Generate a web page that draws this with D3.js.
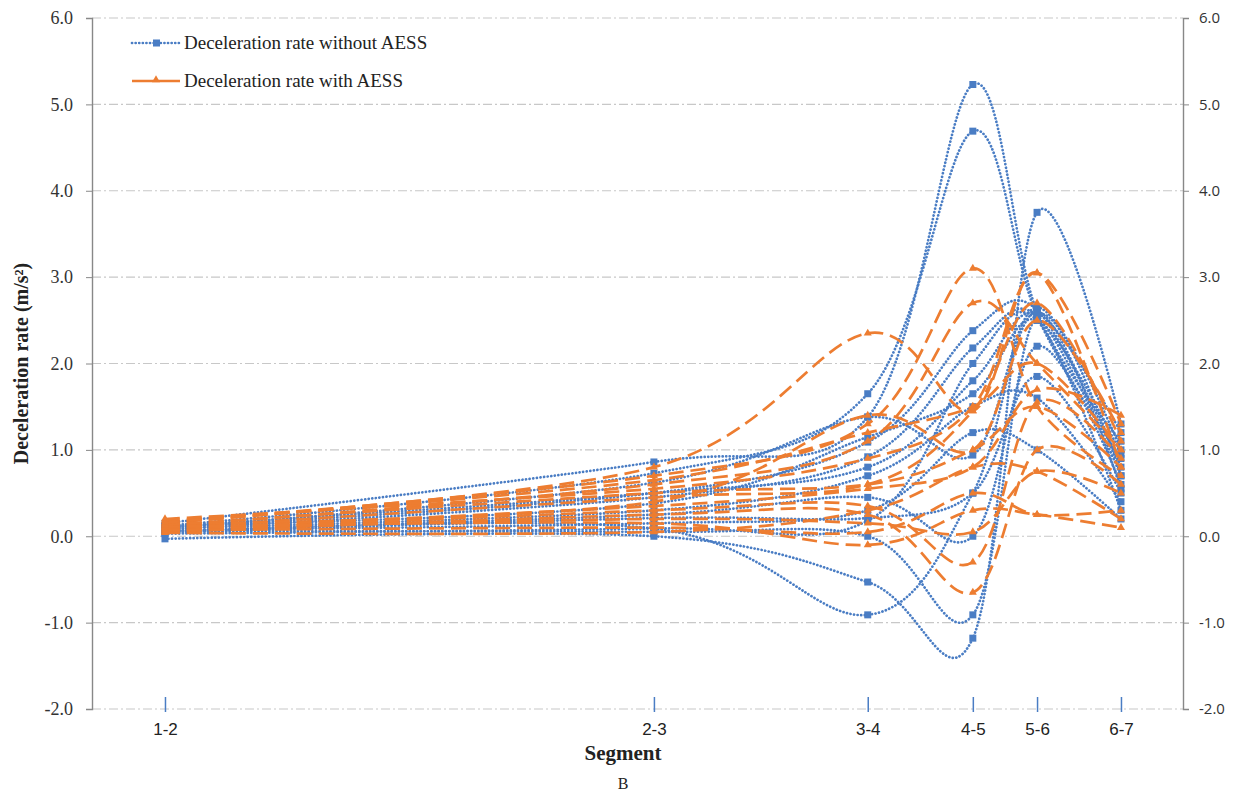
<!DOCTYPE html>
<html>
<head>
<meta charset="utf-8">
<script src="https://cdn.jsdelivr.net/npm/d3@7"></script>
<style>
body { margin: 0; background: #fff; }
</style>
</head>
<body>
<div class="content"></div>
<script>
// segment labels and their position along the road (arbitrary distance units)
var segments = ["1-2", "2-3", "3-4", "4-5", "5-6", "6-7"];
var segmentPos = [100, 770, 1063, 1207, 1295, 1410];
var yTicks = [-2, -1, 0, 1, 2, 3, 4, 5, 6];

// deceleration rate without AESS, one row per vehicle
var withoutAESS = [
  [0.15, 0.86, 1.38, 5.23, 2.60, 1.10],
  [0.12, 0.73, 1.65, 4.69, 2.55, 0.90],
  [0.05, 0.09, -0.91, 0.50, 2.60, 0.55],
  [0.06, 0.05, 0.00, -0.91, 2.55, 0.70],
  [-0.03, 0.00, -0.53, -1.18, 3.75, 1.30],
  [0.10, 0.50, 1.09, 2.38, 2.62, 0.80],
  [0.08, 0.45, 0.92, 2.18, 2.55, 0.70],
  [0.12, 0.38, 1.15, 1.65, 2.50, 0.95],
  [0.10, 0.62, 1.38, 0.94, 2.65, 1.00],
  [0.06, 0.25, 0.45, 0.00, 2.20, 0.60],
  [0.04, 0.21, 0.21, 0.50, 1.85, 0.50],
  [0.09, 0.30, 0.70, 1.50, 1.60, 0.40],
  [0.07, 0.15, 0.30, 1.20, 1.00, 0.20],
  [0.03, 0.09, 0.18, 2.00, 2.50, 0.30],
  [0.11, 0.50, 0.80, 1.80, 2.58, 1.20]
];

// deceleration rate with AESS
var withAESS = [
  [0.18, 0.80, 2.35, 1.45, 3.05, 0.80],
  [0.15, 0.70, 1.30, 3.10, 1.50, 0.70],
  [0.12, 0.60, 1.10, 2.70, 2.00, 1.00],
  [0.20, 0.55, 0.90, 1.50, 3.05, 1.30],
  [0.10, 0.45, 0.60, 1.45, 2.70, 1.10],
  [0.14, 0.40, 1.40, 1.00, 2.50, 1.20],
  [0.08, 0.35, 0.55, 0.80, 1.70, 1.40],
  [0.06, 0.30, 0.35, -0.30, 1.55, 0.90],
  [0.05, 0.25, 0.25, -0.65, 1.00, 0.60],
  [0.09, 0.20, 0.15, 0.05, 0.75, 0.50],
  [0.11, 0.15, -0.10, 0.30, 0.25, 0.10],
  [0.07, 0.10, 0.05, 0.50, 0.25, 0.30],
  [0.13, 0.50, 0.60, 1.00, 1.50, 0.80],
  [0.16, 0.65, 1.20, 1.50, 2.00, 1.00],
  [0.04, 0.05, 0.30, 0.80, 0.75, 0.20]
];

var blue = "#4a7dc4", orange = "#ed7d31", grid = "#c8c8c8";
var serif = "'Liberation Serif', 'Times New Roman', serif";
var fmt = function(d) { return d.toFixed(1); };

function render(){
var W = 1256, H = 798;
var margin = {top: 18, right: 73, bottom: 89, left: 92},
    width = W - margin.left - margin.right,
    height = H - margin.top - margin.bottom;

var x = d3.scaleLinear().domain([0, 1495]).range([0, width]);
var y = d3.scaleLinear().domain([-2, 6]).range([height, 0]);

var line = d3.line()
    .x(function(d, i) { return x(segmentPos[i]); })
    .y(function(d) { return y(d); })
    .curve(d3.curveCardinal.tension(0));

var svg = d3.select("body").select(".content").append("svg")
    .attr("width", W)
    .attr("height", H);
var g = svg.append("g")
    .attr("transform", "translate(" + margin.left + "," + margin.top + ")");

// grid lines
g.append("g").selectAll("line").data(yTicks).enter().append("line")
    .attr("x1", 0).attr("x2", width)
    .attr("y1", function(d) { return y(d); })
    .attr("y2", function(d) { return y(d); })
    .attr("stroke", grid).attr("stroke-width", 1.2)
    .attr("stroke-dasharray", "9,3,2,3");

// left axis
var left = g.append("g").call(d3.axisLeft(y).tickValues(yTicks).tickFormat(fmt).tickSize(6).tickPadding(13));
left.attr("font-family", serif);
left.select(".domain").attr("stroke", "#888").attr("stroke-width", 1.4);
left.selectAll(".tick line").attr("stroke", "#888");
left.selectAll("text").style("font-family", serif).style("font-size", "18px").attr("fill", "#333");

// right axis
var right = g.append("g").attr("transform", "translate(" + width + ",0)")
    .call(d3.axisRight(y).tickValues(yTicks).tickFormat(fmt).tickSize(6).tickPadding(10));
right.select(".domain").attr("stroke", "#888").attr("stroke-width", 1.4);
right.selectAll(".tick line").attr("stroke", "#888");
right.selectAll("text").style("font-family", "'Open Sans', 'Noto Sans', sans-serif")
    .style("font-size", "15px").attr("fill", "#333");

// segment ticks
var bottom = g.append("g").attr("transform", "translate(0," + height + ")")
    .call(d3.axisBottom(x).tickValues(segmentPos)
      .tickFormat(function(d, i) { return segments[i]; }).tickSize(0).tickPadding(14));
bottom.select(".domain").remove();
bottom.selectAll(".tick").append("line")
    .attr("y1", -12).attr("y2", 3)
    .attr("stroke", blue).attr("stroke-width", 1.5);
bottom.selectAll("text")
    .style("font-family", "'Liberation Sans Narrow', 'Liberation Sans', sans-serif")
    .style("font-size", "17px").attr("fill", "#222");

// without AESS: dotted with squares
var sw = g.append("g");
sw.selectAll("path").data(withoutAESS).enter().append("path")
    .attr("d", line).attr("fill", "none")
    .attr("stroke", blue).attr("stroke-width", 2.7)
    .attr("stroke-linecap", "round")
    .attr("stroke-dasharray", "0.1,3.5");
withoutAESS.forEach(function(s) {
  sw.selectAll(null).data(s).enter().append("rect")
      .attr("x", function(d, i) { return x(segmentPos[i]) - 3.5; })
      .attr("y", function(d) { return y(d) - 3.5; })
      .attr("width", 7).attr("height", 7)
      .attr("fill", blue);
});

// with AESS: dashed with triangles
var tri = d3.symbol().type(d3.symbolTriangle).size(28);
var so = g.append("g");
so.selectAll("path.l").data(withAESS).enter().append("path")
    .attr("class", "l")
    .attr("d", line).attr("fill", "none")
    .attr("stroke", orange).attr("stroke-width", 2.7)
    .attr("stroke-dasharray", "15,7");
withAESS.forEach(function(s) {
  so.selectAll(null).data(s).enter().append("path")
      .attr("d", tri)
      .attr("transform", function(d, i) { return "translate(" + x(segmentPos[i]) + "," + y(d) + ")"; })
      .attr("fill", orange);
});

// legend
var lg = svg.append("g").attr("transform", "translate(132,43)");
lg.append("line").attr("x1", 0).attr("x2", 48)
    .attr("stroke", blue).attr("stroke-width", 2.7)
    .attr("stroke-linecap", "round").attr("stroke-dasharray", "0.1,3.5");
lg.append("rect").attr("x", 21).attr("y", -3.5).attr("width", 7).attr("height", 7).attr("fill", blue);
lg.append("text").attr("x", 52).attr("y", 6)
    .style("font-family", serif).style("font-size", "19px").attr("fill", "#222")
    .text("Deceleration rate without AESS");
lg.append("line").attr("x1", 0).attr("x2", 48).attr("y1", 38).attr("y2", 38)
    .attr("stroke", orange).attr("stroke-width", 2.7);
lg.append("path").attr("d", tri).attr("transform", "translate(24,37)").attr("fill", orange);
lg.append("text").attr("x", 52).attr("y", 44)
    .style("font-family", serif).style("font-size", "19px").attr("fill", "#222")
    .text("Deceleration rate with AESS");

// titles
svg.append("text")
    .attr("transform", "translate(28," + (margin.top + height / 2) + ") rotate(-90)")
    .attr("text-anchor", "middle")
    .style("font-family", serif).style("font-size", "20px").style("font-weight", "bold")
    .attr("fill", "#222")
    .text("Deceleration rate (m/s²)");
svg.append("text")
    .attr("x", 623).attr("y", 760)
    .attr("text-anchor", "middle")
    .style("font-family", serif).style("font-size", "21px").style("font-weight", "bold")
    .attr("fill", "#222")
    .text("Segment");
svg.append("text")
    .attr("x", 623).attr("y", 789)
    .attr("text-anchor", "middle")
    .style("font-family", serif).style("font-size", "16px").attr("fill", "#222")
    .text("B");
}
render();
</script>
</body>
</html>
